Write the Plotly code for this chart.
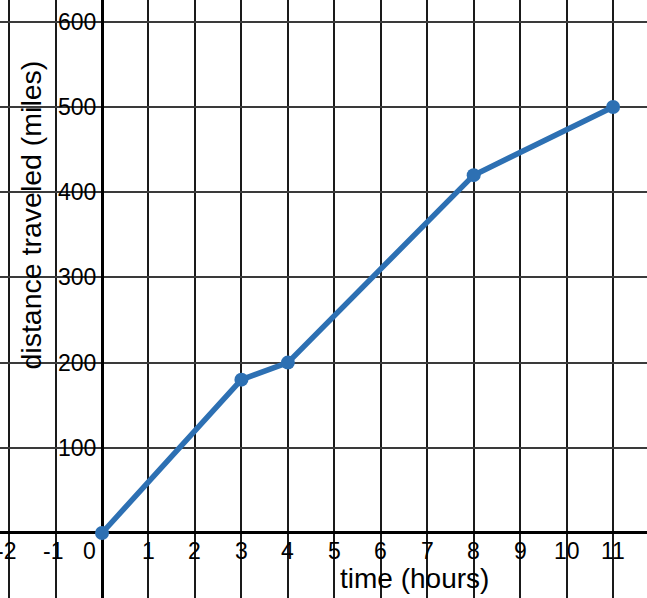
import plotly.graph_objects as go

# data
time_hours = [0, 3, 4, 8, 11]
distance_miles = [0, 180, 200, 420, 500]

x_tick_values = [-2, -1, 0, 1, 2, 3, 4, 5, 6, 7, 8, 9, 10, 11]
x_tick_labels = ["-2", "-1", "0", "1", "2", "3", "4", "5", "6", "7", "8", "9", "10", "11"]
y_tick_values = [100, 200, 300, 400, 500, 600]
y_tick_labels = ["100", "200", "300", "400", "500", "600"]

x_title = "time (hours)"
y_title = "distance traveled (miles)"

FONT = "Arial, Liberation Sans, sans-serif"

fig = go.Figure()
fig.add_trace(go.Scatter(
    x=time_hours, y=distance_miles, mode="lines+markers",
    line=dict(color="#2d70b3", width=5.5),
    marker=dict(color="#2d70b3", size=14),
    hoverinfo="skip", showlegend=False,
))

annotations = []
for v, t in zip(x_tick_values, x_tick_labels):
    annotations.append(dict(
        x=v, y=0, xref="x", yref="y", text=t, showarrow=False,
        xanchor="center", yanchor="middle",
        xshift=(-13 if v == 0 else (-3 if v < 0 else 0)), yshift=-18,
        font=dict(family=FONT, size=23, color="black"),
    ))
for v, t in zip(y_tick_values, y_tick_labels):
    annotations.append(dict(
        x=0, y=v, xref="x", yref="y", text=t, showarrow=False,
        xanchor="right", yanchor="middle", xshift=-4,
        font=dict(family=FONT, size=23, color="black"),
    ))
annotations.append(dict(
    x=0.6406, y=0.0334, xref="paper", yref="paper", text=x_title,
    showarrow=False, xanchor="center", yanchor="middle",
    font=dict(family=FONT, size=28, color="black"),
))
annotations.append(dict(
    x=0.0464, y=0.6396, xref="paper", yref="paper", text=y_title,
    showarrow=False, xanchor="center", yanchor="middle", textangle=-90,
    font=dict(family=FONT, size=28.5, color="black"),
))

fig.update_layout(
    width=647, height=598,
    margin=dict(l=0, r=0, t=0, b=0),
    paper_bgcolor="white", plot_bgcolor="white",
    xaxis=dict(range=[-2.196, 11.73], showgrid=True, dtick=1, tick0=0,
               gridcolor="#1a1a1a", gridwidth=1.6,
               zeroline=True, zerolinecolor="black", zerolinewidth=3,
               showticklabels=False, ticks="", fixedrange=True),
    yaxis=dict(range=[-76.3, 625.6], showgrid=True, dtick=100, tick0=0,
               gridcolor="#3a3a3a", gridwidth=1.6,
               zeroline=True, zerolinecolor="black", zerolinewidth=3,
               showticklabels=False, ticks="", fixedrange=True),
    annotations=annotations,
)

fig.write_html(
    "out.html",
    config={"displayModeBar": False},
    post_script="document.body.style.margin='0';document.body.style.overflow='hidden';",
)
